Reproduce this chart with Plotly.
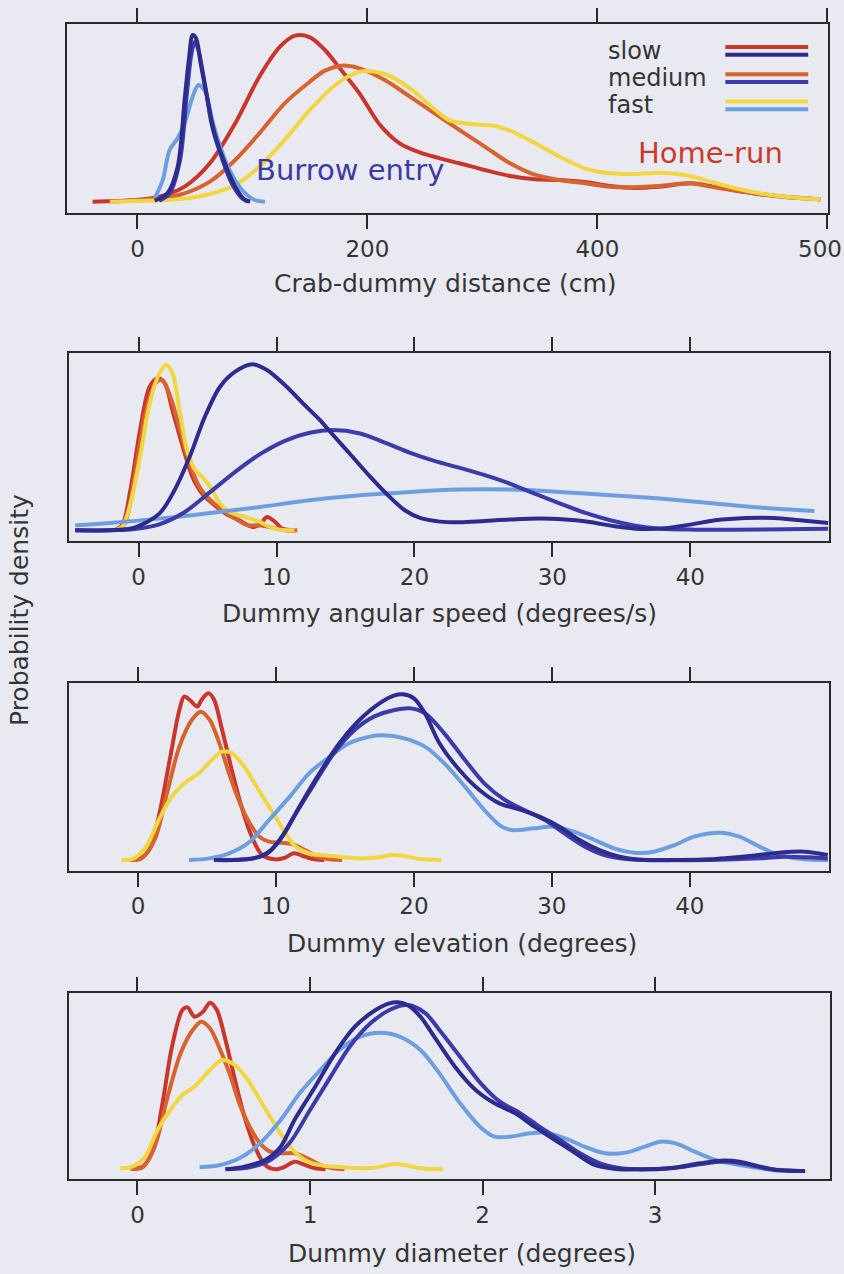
import plotly.graph_objects as go

# ---------------- data: kernel density curves (arbitrary density units) ----------------
# Crab-dummy distance (cm)
dist_tickvals = [0, 200, 400, 600]
dist_ticktext = ["0", "200", "400", ""]
dist_end_label = "500"
dist_hr_slow_x = [-39, -2, 19, 41, 63, 85, 106, 124, 137, 150, 163, 176, 193, 211, 228, 246, 263, 280, 302, 324,
                  346, 367, 389, 411, 433, 454, 481, 498, 520, 541, 563, 594]
dist_hr_slow_y = [0, 0.01, 0.03, 0.09, 0.23, 0.47, 0.75, 0.93, 0.996, 0.986, 0.91, 0.80, 0.65, 0.46, 0.35, 0.294,
                  0.26, 0.23, 0.19, 0.154, 0.134, 0.13, 0.118, 0.094, 0.082, 0.09, 0.11, 0.094, 0.066, 0.044, 0.028, 0.014]
dist_hr_med_x = [-24, 19, 41, 63, 85, 106, 128, 150, 163, 178, 193, 215, 237, 267, 280, 302, 324, 346, 367, 389,
                 411, 433, 454, 481, 498, 520, 541, 563, 594]
dist_hr_med_y = [0, 0.02, 0.05, 0.12, 0.25, 0.41, 0.59, 0.72, 0.786, 0.816, 0.80, 0.73, 0.63, 0.49, 0.43, 0.33,
                 0.23, 0.16, 0.13, 0.11, 0.09, 0.086, 0.094, 0.11, 0.09, 0.066, 0.046, 0.03, 0.014]
dist_hr_fast_x = [-24, 19, 41, 63, 85, 106, 128, 150, 172, 189, 198, 215, 237, 259, 272, 289, 311, 324, 346, 367,
                  389, 411, 433, 454, 476, 498, 520, 541, 563, 594]
dist_hr_fast_y = [0, 0.008, 0.018, 0.046, 0.10, 0.21, 0.37, 0.55, 0.70, 0.77, 0.784, 0.766, 0.68, 0.55, 0.486,
                  0.466, 0.454, 0.426, 0.35, 0.27, 0.20, 0.17, 0.166, 0.174, 0.16, 0.12, 0.08, 0.05, 0.03, 0.014]
dist_be_slow_x = [15, 26, 35, 41, 45, 48, 51, 55, 61, 67, 76, 85, 93, 98]
dist_be_slow_y = [0.006, 0.05, 0.21, 0.61, 0.87, 1.0, 0.98, 0.83, 0.61, 0.41, 0.23, 0.09, 0.014, 0]
dist_be_med_x = [19, 28, 37, 43, 47, 50, 53, 59, 65, 74, 82, 91, 96]
dist_be_med_y = [0.006, 0.05, 0.25, 0.65, 0.89, 0.96, 0.91, 0.69, 0.45, 0.25, 0.11, 0.02, 0]
dist_be_fast_x = [15, 22, 28, 35, 41, 48, 53, 59, 65, 72, 80, 91, 102, 111]
dist_be_fast_y = [0.02, 0.13, 0.31, 0.38, 0.47, 0.63, 0.70, 0.66, 0.49, 0.33, 0.19, 0.07, 0.01, 0]

# Dummy angular speed (degrees/s)
spd_tickvals = [0, 10, 20, 30, 40]
spd_hr_slow_x = [-1.8, -1.2, -0.6, 0.1, 0.8, 1.4, 1.9, 2.45, 3.2, 3.9, 4.6, 5.35, 6.3, 7.3, 8.25, 8.8, 9.3, 9.9,
                 10.4, 11.3]
spd_hr_slow_y = [0, 0.03, 0.24, 0.60, 0.86, 0.91, 0.88, 0.72, 0.50, 0.32, 0.22, 0.16, 0.10, 0.06, 0.02, 0.036,
                 0.08, 0.05, 0.01, 0]
spd_hr_med_x = [-1.5, -1.0, -0.3, 0.45, 1.2, 1.7, 2.3, 3.0, 3.7, 4.4, 5.2, 6.1, 7.0, 7.9, 8.6, 9.5, 10.6, 11.5]
spd_hr_med_y = [0, 0.04, 0.32, 0.68, 0.88, 0.90, 0.80, 0.60, 0.40, 0.26, 0.18, 0.12, 0.07, 0.03, 0.03, 0.02, 0, 0]
spd_hr_fast_x = [-1.8, -1.2, -0.6, 0.1, 0.8, 1.5, 2.0, 2.45, 3.0, 3.5, 4.1, 4.6, 5.2, 5.9, 6.6, 7.7, 8.8, 9.5,
                 10.2, 11.3]
spd_hr_fast_y = [0, 0.02, 0.16, 0.44, 0.76, 0.94, 0.99, 0.94, 0.70, 0.48, 0.36, 0.32, 0.26, 0.16, 0.11, 0.08, 0.05,
                 0.02, 0.004, 0]
spd_be_slow_x = [-4.6, -2.1, -0.3, 1.5, 2.6, 3.7, 4.8, 5.9, 7.0, 8.25, 9.3, 10.6, 12.1, 13.15, 14.05, 15.3, 16.8,
                 18.2, 19.3, 20.4, 21.85, 23.3, 25.1, 26.9, 29.1, 30.9, 32.7, 34.5, 36.4, 38.2, 40.0, 41.8, 44.0,
                 46.1, 47.95, 50.0]
spd_be_slow_y = [0, 0, 0.016, 0.10, 0.24, 0.44, 0.68, 0.86, 0.95, 0.994, 0.96, 0.87, 0.745, 0.66, 0.575, 0.46,
                 0.32, 0.20, 0.12, 0.074, 0.052, 0.048, 0.056, 0.064, 0.07, 0.064, 0.05, 0.024, 0.008, 0.012,
                 0.034, 0.06, 0.074, 0.074, 0.06, 0.044]
spd_be_med_x = [-4.6, -2.1, -0.3, 1.5, 3.35, 5.2, 7.0, 8.8, 10.6, 12.4, 14.05, 16.05, 17.9, 19.7, 21.5, 23.3,
                25.1, 26.9, 28.7, 30.55, 32.4, 34.2, 36.0, 37.8, 40.3, 43.2, 46.9, 50.0]
spd_be_med_y = [0, 0, 0.008, 0.036, 0.11, 0.23, 0.35, 0.456, 0.536, 0.584, 0.60, 0.58, 0.524, 0.464, 0.414,
                0.374, 0.33, 0.28, 0.22, 0.16, 0.104, 0.06, 0.028, 0.01, 0.004, 0.004, 0.006, 0.01]
spd_be_fast_x = [-4.6, -2.1, 1.5, 5.2, 8.8, 12.4, 16.05, 19.7, 23.3, 25.1, 26.9, 30.55, 34.2, 37.8, 41.4, 45.05,
                 49.0]
spd_be_fast_y = [0.03, 0.044, 0.07, 0.104, 0.14, 0.18, 0.21, 0.23, 0.244, 0.246, 0.244, 0.23, 0.21, 0.19, 0.164,
                 0.136, 0.116]

# Dummy elevation (degrees)
elev_tickvals = [0, 10, 20, 30, 40]
elev_hr_slow_x = [-0.6, 0.1, 0.8, 1.5, 2.3, 3.0, 3.35, 3.8, 4.3, 4.6, 5.1, 5.5, 6.1, 6.8, 7.5, 8.25, 9.0, 9.9,
                  10.6, 11.3, 12.1, 12.8, 13.5]
elev_hr_slow_y = [0, 0.006, 0.06, 0.26, 0.60, 0.90, 0.98, 0.956, 0.92, 0.96, 1.0, 0.964, 0.78, 0.54, 0.32, 0.14,
                  0.03, 0.004, 0.012, 0.04, 0.02, 0.004, 0]
elev_hr_med_x = [-0.6, 0.27, 1.2, 2.1, 3.0, 3.9, 4.55, 5.2, 5.9, 6.6, 7.3, 8.1, 8.8, 9.5, 10.4, 11.15, 12.1, 13.0,
                 13.9, 14.8]
elev_hr_med_y = [0, 0.01, 0.12, 0.40, 0.68, 0.84, 0.89, 0.84, 0.70, 0.52, 0.36, 0.22, 0.14, 0.11, 0.104, 0.096,
                 0.06, 0.02, 0.004, 0]
elev_hr_fast_x = [-1.2, -0.3, 0.6, 1.5, 2.45, 3.35, 4.4, 5.35, 6.1, 6.8, 7.7, 8.6, 9.5, 10.4, 11.3, 12.4, 13.5,
                  14.6, 16.05, 17.5, 18.4, 19.3, 20.4, 22.0]
elev_hr_fast_y = [0, 0.01, 0.08, 0.24, 0.38, 0.46, 0.52, 0.60, 0.65, 0.64, 0.56, 0.44, 0.32, 0.20, 0.09, 0.04,
                  0.028, 0.02, 0.01, 0.016, 0.03, 0.024, 0.006, 0]
elev_be_slow_x = [5.5, 7.0, 8.4, 9.5, 10.6, 11.7, 13.15, 14.6, 16.05, 17.5, 18.6, 19.2, 20.0, 20.8, 21.85, 23.3,
                  24.75, 26.2, 27.65, 29.1, 30.55, 32.0, 33.45, 34.9, 36.7, 38.9, 41.4, 44.3, 46.5, 48.3, 50.0]
elev_be_slow_y = [0, 0, 0.01, 0.05, 0.16, 0.32, 0.52, 0.70, 0.84, 0.94, 0.988, 0.994, 0.97, 0.88, 0.70, 0.54,
                  0.42, 0.34, 0.304, 0.26, 0.20, 0.12, 0.06, 0.02, 0, 0, 0.004, 0.024, 0.044, 0.05, 0.03]
elev_be_med_x = [5.9, 7.7, 9.2, 10.2, 11.3, 12.8, 14.2, 15.7, 17.1, 18.6, 19.7, 20.8, 22.2, 23.7, 25.1, 26.6,
                 28.0, 29.5, 30.9, 32.4, 33.8, 35.6, 37.8, 41.4, 45.05, 46.9, 48.7, 50.0]
elev_be_med_y = [0, 0.004, 0.03, 0.11, 0.26, 0.46, 0.64, 0.78, 0.86, 0.90, 0.91, 0.88, 0.76, 0.60, 0.46, 0.36,
                 0.30, 0.24, 0.16, 0.08, 0.03, 0.004, 0, 0, 0.01, 0.02, 0.016, 0.008]
elev_be_fast_x = [3.7, 5.2, 6.6, 8.1, 9.5, 11.0, 12.4, 13.9, 15.3, 16.8, 17.7, 19.3, 20.8, 22.2, 23.7, 25.1, 26.2,
                  26.8, 27.3, 28.7, 30.2, 31.6, 33.1, 34.5, 36.0, 37.4, 38.9, 40.3, 42.15, 43.6, 45.05, 46.5, 48.3,
                  50.0]
elev_be_fast_y = [0, 0.01, 0.04, 0.11, 0.24, 0.38, 0.52, 0.62, 0.70, 0.74, 0.748, 0.73, 0.68, 0.58, 0.44, 0.30,
                  0.21, 0.185, 0.178, 0.19, 0.20, 0.17, 0.12, 0.07, 0.044, 0.05, 0.09, 0.14, 0.164, 0.14, 0.08,
                  0.03, 0.004, 0]

# Dummy diameter (degrees)
diam_tickvals = [0, 1, 2, 3]
diam_hr_slow_x = [-0.04, 0.03, 0.09, 0.145, 0.20, 0.26, 0.29, 0.33, 0.38, 0.42, 0.46, 0.51, 0.565, 0.62, 0.68,
                  0.74, 0.80, 0.855, 0.91, 0.97, 1.03, 1.09]
diam_hr_slow_y = [0.006, 0.016, 0.116, 0.396, 0.736, 0.956, 0.972, 0.916, 0.946, 1.0, 0.956, 0.776, 0.536, 0.316,
                  0.136, 0.026, 0, 0.016, 0.046, 0.026, 0.006, 0]
diam_hr_med_x = [-0.04, 0.03, 0.10, 0.17, 0.25, 0.32, 0.37, 0.42, 0.48, 0.54, 0.59, 0.65, 0.71, 0.77, 0.84, 0.91,
                 0.985, 1.06, 1.13, 1.20]
diam_hr_med_y = [0.002, 0.012, 0.136, 0.416, 0.696, 0.836, 0.886, 0.846, 0.716, 0.556, 0.396, 0.256, 0.156, 0.106,
                 0.096, 0.096, 0.066, 0.026, 0.006, 0]
diam_hr_fast_x = [-0.10, -0.03, 0.044, 0.116, 0.19, 0.26, 0.33, 0.42, 0.49, 0.565, 0.64, 0.71, 0.78, 0.855, 0.93,
                  1.0, 1.09, 1.20, 1.32, 1.41, 1.48, 1.55, 1.64, 1.77]
diam_hr_fast_y = [0.006, 0.016, 0.076, 0.236, 0.356, 0.446, 0.496, 0.596, 0.656, 0.626, 0.536, 0.416, 0.296,
                  0.176, 0.086, 0.04, 0.02, 0.012, 0.006, 0.016, 0.032, 0.026, 0.006, 0]
diam_be_slow_x = [0.51, 0.62, 0.74, 0.83, 0.91, 1.03, 1.145, 1.26, 1.38, 1.46, 1.51, 1.565, 1.64, 1.72, 1.84,
                  1.96, 2.07, 2.19, 2.30, 2.42, 2.54, 2.65, 2.77, 2.91, 3.09, 3.26, 3.38, 3.49, 3.61, 3.72, 3.87]
diam_be_slow_y = [0, 0.016, 0.056, 0.136, 0.296, 0.496, 0.696, 0.856, 0.956, 0.996, 1.002, 0.986, 0.916, 0.796,
                  0.616, 0.476, 0.396, 0.336, 0.256, 0.176, 0.096, 0.026, 0.002, 0, 0.006, 0.036, 0.052, 0.046,
                  0.016, -0.006, -0.01]
diam_be_med_x = [0.51, 0.65, 0.77, 0.88, 1.0, 1.12, 1.23, 1.35, 1.46, 1.55, 1.59, 1.67, 1.75, 1.87, 1.99, 2.10,
                 2.22, 2.33, 2.45, 2.565, 2.68, 2.80, 2.97, 3.17, 3.32, 3.44, 3.55, 3.67, 3.84]
diam_be_med_y = [0, 0.012, 0.056, 0.156, 0.356, 0.556, 0.736, 0.876, 0.956, 0.986, 0.982, 0.936, 0.836, 0.676,
                 0.516, 0.406, 0.336, 0.256, 0.176, 0.096, 0.036, 0.006, 0, 0.016, 0.04, 0.046, 0.026, 0, -0.01]
diam_be_fast_x = [0.36, 0.48, 0.59, 0.71, 0.83, 0.94, 1.06, 1.17, 1.29, 1.41, 1.52, 1.64, 1.75, 1.87, 1.985, 2.07,
                  2.16, 2.275, 2.36, 2.48, 2.59, 2.71, 2.83, 2.94, 3.03, 3.12, 3.23, 3.35, 3.46, 3.61, 3.72]
diam_be_fast_y = [0.012, 0.026, 0.066, 0.156, 0.296, 0.456, 0.596, 0.716, 0.796, 0.82, 0.796, 0.716, 0.576, 0.396,
                  0.256, 0.196, 0.196, 0.216, 0.22, 0.186, 0.136, 0.096, 0.10, 0.136, 0.166, 0.156, 0.106, 0.056,
                  0.032, 0.006, -0.01]

speed_labels = ["slow", "medium", "fast"]

# ---------------- styling ----------------
W, H = 844, 1274
FONT = "DejaVu Sans"
INK = "#353535"
BG = "#E9EAF1"
COL = {
    "hr_slow": "#C9362B", "hr_med": "#D7642F", "hr_fast": "#F1D641",
    "be_slow": "#2D2C8E", "be_med": "#3B3BA9", "be_fast": "#6C9FDF",
}
LW = 4


def xdom(left, right):
    return [left / W, right / W]


def ydom(top, bottom):
    return [1 - bottom / H, 1 - top / H]


panels = [
    dict(series=[(dist_hr_slow_x, dist_hr_slow_y, "hr_slow"), (dist_hr_med_x, dist_hr_med_y, "hr_med"),
                 (dist_hr_fast_x, dist_hr_fast_y, "hr_fast"), (dist_be_fast_x, dist_be_fast_y, "be_fast"),
                 (dist_be_med_x, dist_be_med_y, "be_med"), (dist_be_slow_x, dist_be_slow_y, "be_slow")],
         xd=xdom(67.3, 828.0), yd=ydom(24.0, 213.3), xr=[-61, 600.5], yr=[-0.07, 1.066],
         tv=dist_tickvals, tt=dist_ticktext,
         title="Crab-dummy distance (cm)", tpos=(445, 283)),
    dict(series=[(spd_hr_slow_x, spd_hr_slow_y, "hr_slow"), (spd_hr_med_x, spd_hr_med_y, "hr_med"),
                 (spd_hr_fast_x, spd_hr_fast_y, "hr_fast"), (spd_be_fast_x, spd_be_fast_y, "be_fast"),
                 (spd_be_med_x, spd_be_med_y, "be_med"), (spd_be_slow_x, spd_be_slow_y, "be_slow")],
         xd=xdom(69.3, 829.3), yd=ydom(353.3, 541.0), xr=[-5.03, 50.08], yr=[-0.064, 1.06],
         tv=spd_tickvals, tt=[str(v) for v in spd_tickvals],
         title="Dummy angular speed (degrees/s)", tpos=(439, 613)),
    dict(series=[(elev_hr_slow_x, elev_hr_slow_y, "hr_slow"), (elev_hr_med_x, elev_hr_med_y, "hr_med"),
                 (elev_hr_fast_x, elev_hr_fast_y, "hr_fast"), (elev_be_fast_x, elev_be_fast_y, "be_fast"),
                 (elev_be_med_x, elev_be_med_y, "be_med"), (elev_be_slow_x, elev_be_slow_y, "be_slow")],
         xd=xdom(69.0, 828.5), yd=ydom(683.3, 870.7), xr=[-5.0, 50.05], yr=[-0.064, 1.06],
         tv=elev_tickvals, tt=[str(v) for v in elev_tickvals],
         title="Dummy elevation (degrees)", tpos=(462, 943)),
    dict(series=[(diam_hr_slow_x, diam_hr_slow_y, "hr_slow"), (diam_hr_med_x, diam_hr_med_y, "hr_med"),
                 (diam_hr_fast_x, diam_hr_fast_y, "hr_fast"), (diam_be_fast_x, diam_be_fast_y, "be_fast"),
                 (diam_be_med_x, diam_be_med_y, "be_med"), (diam_be_slow_x, diam_be_slow_y, "be_slow")],
         xd=xdom(69.0, 830.0), yd=ydom(992.7, 1179.3), xr=[-0.397, 4.014], yr=[-0.06, 1.06],
         tv=diam_tickvals, tt=[str(v) for v in diam_tickvals],
         title="Dummy diameter (degrees)", tpos=(462, 1253)),
]

fig = go.Figure()
annotations = []
layout_axes = {}

for i, p in enumerate(panels, start=1):
    sfx = "" if i == 1 else str(i)
    for xs, ys, key in p["series"]:
        fig.add_trace(go.Scatter(
            x=xs, y=ys, mode="lines", xaxis="x" + sfx, yaxis="y" + sfx,
            line=dict(color=COL[key], width=LW, shape="spline", smoothing=0.9),
            hoverinfo="skip", showlegend=False,
        ))
    layout_axes["xaxis" + sfx] = dict(
        domain=p["xd"], range=p["xr"], anchor="y" + sfx,
        tickmode="array", tickvals=p["tv"], ticktext=p["tt"],
        ticks="outside", ticklen=14, tickwidth=2, tickcolor="#2a2a2a",
        showline=True, linewidth=2, linecolor="#2a2a2a", mirror="ticks",
        showgrid=False, zeroline=False,
        tickfont=dict(family=FONT, size=23, color=INK),
    )
    layout_axes["yaxis" + sfx] = dict(
        domain=p["yd"], range=p["yr"], anchor="x" + sfx,
        showline=True, linewidth=2, linecolor="#2a2a2a", mirror=True,
        ticks="", showticklabels=False, showgrid=False, zeroline=False,
    )
    tx, ty = p["tpos"]
    annotations.append(dict(
        text=p["title"], x=tx / W, y=1 - ty / H, xref="paper", yref="paper",
        xanchor="center", yanchor="middle", showarrow=False,
        font=dict(family=FONT, size=25, color=INK),
    ))

# last distance tick label, nudged inside the page edge
annotations.append(dict(
    text=dist_end_label, x=820 / W, y=1 - 249 / H, xref="paper", yref="paper",
    xanchor="center", yanchor="middle", showarrow=False,
    font=dict(family=FONT, size=23, color=INK),
))

# shared y-axis title
annotations.append(dict(
    text="Probability density", x=19 / W, y=1 - 610 / H, xref="paper", yref="paper",
    xanchor="center", yanchor="middle", textangle=-90, showarrow=False,
    font=dict(family=FONT, size=25, color=INK),
))

# group labels in the distance panel
annotations.append(dict(
    text="Home-run", x=0.845, y=0.32, xref="x domain", yref="y domain",
    xanchor="center", yanchor="middle", showarrow=False,
    font=dict(family=FONT, size=29, color="#C8392E"),
))
annotations.append(dict(
    text="Burrow entry", x=0.372, y=0.23, xref="x domain", yref="y domain",
    xanchor="center", yanchor="middle", showarrow=False,
    font=dict(family=FONT, size=29, color="#3C3AA3"),
))

# legend: speed label with a home-run / burrow-entry swatch pair
shapes = []
legend_rows = [(0.858, "hr_slow", "be_slow"), (0.714, "hr_med", "be_med"), (0.570, "hr_fast", "be_fast")]
for label, (ymid, hr_key, be_key) in zip(speed_labels, legend_rows):
    annotations.append(dict(
        text=label, x=0.708, y=ymid, xref="x domain", yref="y domain",
        xanchor="left", yanchor="middle", showarrow=False,
        font=dict(family=FONT, size=24, color=INK),
    ))
    for dy, key in ((0.021, hr_key), (-0.021, be_key)):
        shapes.append(dict(
            type="line", xref="x domain", yref="y domain",
            x0=0.865, x1=0.974, y0=ymid + dy, y1=ymid + dy,
            line=dict(color=COL[key], width=4),
        ))

fig.update_layout(
    width=W, height=H, margin=dict(l=0, r=0, t=0, b=0),
    paper_bgcolor=BG, plot_bgcolor=BG,
    annotations=annotations, shapes=shapes, showlegend=False,
    **layout_axes,
)

fig.write_html("out.html")
